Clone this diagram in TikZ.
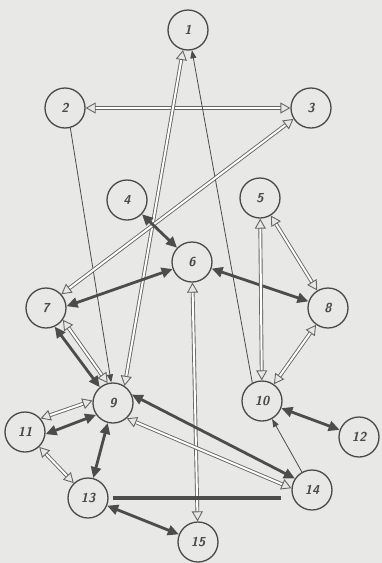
\documentclass[tikz,border=0pt]{standalone}
\usetikzlibrary{arrows.meta}
\definecolor{bg}{HTML}{E8E8E6}
\definecolor{ink}{HTML}{4A4A4A}
\definecolor{darkln}{HTML}{4C4C4C}
\definecolor{hollowln}{HTML}{666666}
\begin{document}
\begin{tikzpicture}[x=1pt,y=-1pt,
  person/.style={circle, draw=ink, line width=1.3pt, fill=bg, minimum size=40pt, inner sep=0pt, font=\sffamily\slshape\bfseries\fontsize{13}{15}\selectfont, text=ink},
  strong/.style={draw=darkln, line width=2.8pt, {Triangle[length=11pt,width=10pt]}-{Triangle[length=11pt,width=10pt]}},
  weak/.style={draw=hollowln, line width=0.9pt, double=white, double distance=2pt, {Triangle[open,length=10pt,width=11pt]}-{Triangle[open,length=10pt,width=11pt]}},
  oneway/.style={draw=darkln, line width=0.8pt, -{Triangle[length=8pt,width=6pt]}},
  bar/.style={draw=darkln, line width=4.5pt}
]
\fill[bg] (0,0) rectangle (382,563);
\useasboundingbox (0,0) rectangle (382,563);

\node[person] (n1)  at (188,30)  {1};
\node[person] (n2)  at (65,108)  {2};
\node[person] (n3)  at (311,108) {3};
\node[person] (n4)  at (127,200) {4};
\node[person] (n5)  at (260,198) {5};
\node[person] (n6)  at (192,262) {6};
\node[person] (n7)  at (46,308)  {7};
\node[person] (n8)  at (328,308) {8};
\node[person] (n9)  at (113,403) {9};
\node[person] (n10) at (262,401) {10};
\node[person] (n11) at (25,432)  {11};
\node[person] (n12) at (359,437) {12};
\node[person] (n13) at (88,498)  {13};
\node[person] (n14) at (312,490) {14};
\node[person] (n15) at (198,542) {15};

\draw[weak] (n2) -- (n3);
\draw[weak] (n9.56) -- (n1.256);
\draw[oneway] (n10.118) -- (n1.281);
\draw[oneway] (n2.-75) -- (n9.95);
\draw[weak] (n7.42) -- (n3.212);
\draw[strong] (n4) -- (n6);
\draw[strong] (n7.5) -- (n6.200);
\draw[strong] (n6) -- (n8);
\draw[weak] (n5) -- (n10);
\draw[weak] (n5) -- (n8);
\draw[weak] (n8) -- (n10);
\draw[weak] (n6) -- (n15);
\draw[strong] (n7.-65) -- (n9.130);
\draw[weak] (n7.-35) -- (n9.105);
\draw[weak] (n11.41) -- (n9.173);
\draw[strong] (n11.-6) -- (n9.215);
\draw[strong] (n9) -- (n13);
\draw[weak] (n11) -- (n13);
\draw[strong] (n9.24) -- (n14.146);
\draw[weak] (n9.-48) -- (n14.175);
\draw[strong] (n10) -- (n12);
\draw[oneway] (n14) -- (n10);
\draw[bar, shorten <=4pt, shorten >=10pt] (n13.east) -- (n13.east -| n14.west);
\draw[strong] (n13) -- (n15);
\end{tikzpicture}
\end{document}
